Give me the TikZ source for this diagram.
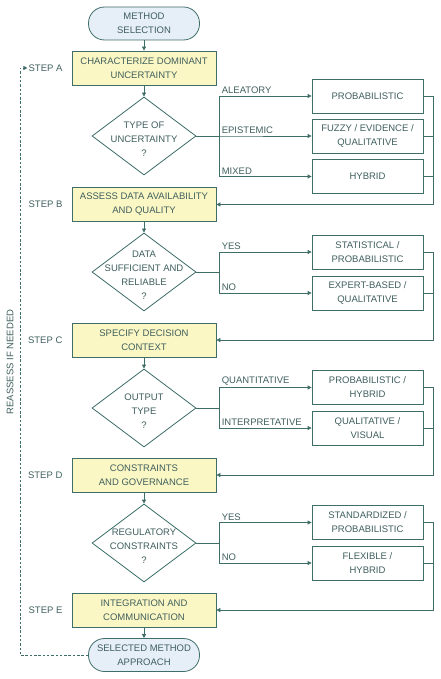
\documentclass[tikz,border=0pt]{standalone}
\usepackage{fontspec}
\setmainfont{Liberation Sans}
\usetikzlibrary{shapes.geometric,arrows.meta,positioning}

\definecolor{edgeteal}{HTML}{3F6E69}
\definecolor{inkteal}{HTML}{3F5F5D}
\definecolor{stepyellow}{HTML}{FBF7C4}
\definecolor{termblue}{HTML}{E6EEF8}

\tikzset{
  base/.style={font=\fontsize{9.5}{14}\selectfont, text=inkteal, align=center},
  terminal/.style={base, draw=edgeteal, fill=termblue, rounded corners=16pt,
    minimum width=111pt, minimum height=33pt, inner sep=0pt, line width=0.8pt},
  stepbox/.style={base, draw=edgeteal, fill=stepyellow, minimum width=144pt,
    minimum height=34pt, inner sep=0pt, line width=0.8pt},
  methodbox/.style={base, draw=edgeteal, fill=white, minimum width=111pt,
    minimum height=34pt, inner sep=0pt, line width=0.8pt},
  decision/.style={diamond, draw=edgeteal, fill=white, minimum width=104pt,
    minimum height=78pt, inner sep=0pt, line width=0.8pt},
  qtext/.style={base, yshift=-3pt},
  steplbl/.style={base, inner sep=0pt},
  branchlbl/.style={base, inner sep=2pt, above right},
  flow/.style={draw=edgeteal, line width=0.8pt},
  arr/.style={flow, -{Triangle[length=4pt,width=4pt]}},
}

\begin{document}
\begin{tikzpicture}[x=1pt,y=-1pt]
    \useasboundingbox (0,0) rectangle (440,679);

    % main column
    \node[terminal] (start) at (144,23.5) {METHOD\\SELECTION};
    \node[stepbox] (stepA) at (144,68) {CHARACTERIZE DOMINANT\\UNCERTAINTY};
    \node[decision, label={[qtext]center:TYPE OF\\UNCERTAINTY\\?}] (typeQ) at (144,136) {};
    \node[stepbox] (stepB) at (144,204.5) {ASSESS DATA AVAILABILITY\\AND QUALITY};
    \node[decision, label={[qtext]center:DATA\\SUFFICIENT AND\\RELIABLE\\?}] (dataQ) at (144,272) {};
    \node[stepbox] (stepC) at (144,340) {SPECIFY DECISION\\CONTEXT};
    \node[decision, label={[qtext]center:OUTPUT\\TYPE\\?}] (outQ) at (144,408) {};
    \node[stepbox] (stepD) at (144,475) {CONSTRAINTS\\AND GOVERNANCE};
    \node[decision, label={[qtext]center:REGULATORY\\CONSTRAINTS\\?}] (regQ) at (144,543) {};
    \node[stepbox] (stepE) at (144,610) {INTEGRATION AND\\COMMUNICATION};
    \node[terminal] (finish) at (144,655) {SELECTED METHOD\\APPROACH};

    % method column
    \node[methodbox] (prob) at (367.5,96) {PROBABILISTIC};
    \node[methodbox] (fuzzy) at (367.5,136) {FUZZY / EVIDENCE /\\QUALITATIVE};
    \node[methodbox] (hybrid) at (367.5,176.5) {HYBRID};
    \node[methodbox] (stat) at (367.5,252) {STATISTICAL /\\PROBABILISTIC};
    \node[methodbox] (expert) at (367.5,293) {EXPERT-BASED /\\QUALITATIVE};
    \node[methodbox] (probhyb) at (367.5,387.5) {PROBABILISTIC /\\HYBRID};
    \node[methodbox] (qualvis) at (367.5,428) {QUALITATIVE /\\VISUAL};
    \node[methodbox] (stand) at (367.5,522.5) {STANDARDIZED /\\PROBABILISTIC};
    \node[methodbox] (flex) at (367.5,563) {FLEXIBLE /\\HYBRID};

    % step labels
    \node[steplbl, left=9pt of stepA] (lblA) {STEP A};
    \node[steplbl, left=9pt of stepB] (lblB) {STEP B};
    \node[steplbl, left=9pt of stepC] (lblC) {STEP C};
    \node[steplbl, left=9pt of stepD] (lblD) {STEP D};
    \node[steplbl, left=9pt of stepE] (lblE) {STEP E};
    \node[base, rotate=90] (reassess) at (10,362) {REASSESS IF NEEDED};

    % down the main column
    \draw[arr] (start) -- (stepA);
    \draw[arr] (stepA) -- (typeQ);
    \draw[arr] (stepB) -- (dataQ);
    \draw[arr] (stepC) -- (outQ);
    \draw[arr] (stepD) -- (regQ);
    \draw[arr] (stepE) -- (finish);

    % branches
    \draw[arr] (typeQ.east) -- ++(23,0) |- node[branchlbl, pos=0.5] {ALEATORY} (prob.west);
    \draw[arr] (typeQ.east) -- ++(23,0) node[branchlbl] {EPISTEMIC} -- (fuzzy.west);
    \draw[arr] (typeQ.east) -- ++(23,0) |- node[branchlbl, pos=0.5] {MIXED} (hybrid.west);

    \draw[arr] (dataQ.east) -- ++(23,0) |- node[branchlbl, pos=0.5] {YES} (stat.west);
    \draw[arr] (dataQ.east) -- ++(23,0) |- node[branchlbl, pos=0.5] {NO} (expert.west);

    \draw[arr] (outQ.east) -- ++(23,0) |- node[branchlbl, pos=0.5] {QUANTITATIVE} (probhyb.west);
    \draw[arr] (outQ.east) -- ++(23,0) |- node[branchlbl, pos=0.5] {INTERPRETATIVE} (qualvis.west);

    \draw[arr] (regQ.east) -- ++(23,0) |- node[branchlbl, pos=0.5] {YES} (stand.west);
    \draw[arr] (regQ.east) -- ++(23,0) |- node[branchlbl, pos=0.5] {NO} (flex.west);

    % back to the next step
    \draw[arr] (prob.east) -- ++(10,0) |- (stepB.east);
    \draw[flow] (fuzzy.east) -- ++(10,0);
    \draw[flow] (hybrid.east) -- ++(10,0);
    \draw[arr] (stat.east) -- ++(10,0) |- (stepC.east);
    \draw[flow] (expert.east) -- ++(10,0);
    \draw[arr] (probhyb.east) -- ++(10,0) |- (stepD.east);
    \draw[flow] (qualvis.east) -- ++(10,0);
    \draw[arr] (stand.east) -- ++(10,0) |- (stepE.east);
    \draw[flow] (flex.east) -- ++(10,0);

    % reassess loop
    \coordinate (loopcorner) at (20,655);
    \draw[arr, dash pattern=on 2.5pt off 1.8pt] (finish.west) -- (loopcorner) |- ([xshift=-1pt]lblA.west);

\end{tikzpicture}
\end{document}
